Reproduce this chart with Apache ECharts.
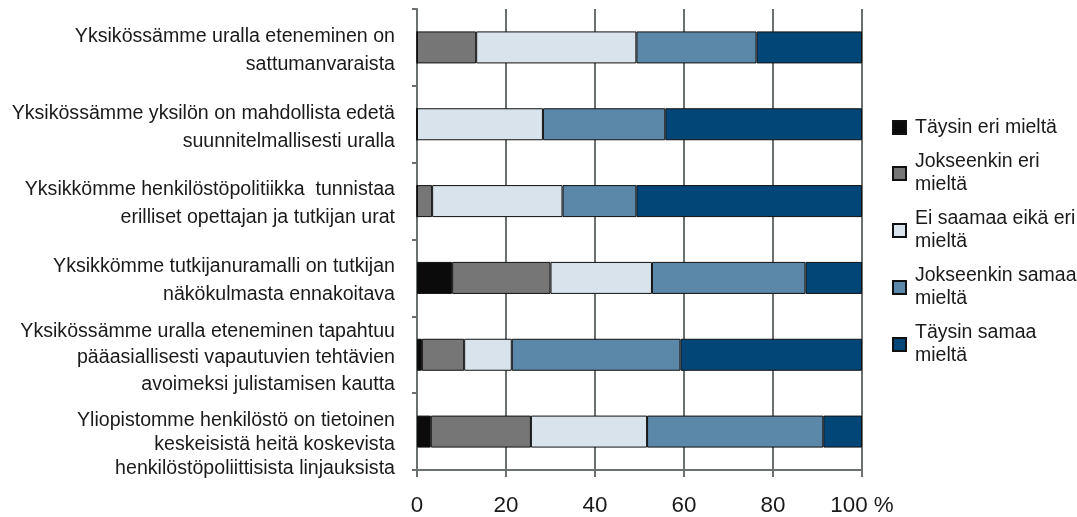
<!DOCTYPE html>
<html>
<head>
<meta charset="utf-8">
<script src="https://cdn.jsdelivr.net/npm/echarts@6/dist/echarts.min.js"></script>
<style>
  html, body { margin: 0; padding: 0; background: #fff; }
  #chart { width: 1077px; height: 517px; }
</style>
</head>
<body>
<div id="chart"></div>
<script>
var categories = [
  'Yksikössämme uralla eteneminen on\nsattumanvaraista',
  'Yksikössämme yksilön on mahdollista edetä\nsuunnitelmallisesti uralla',
  'Yksikkömme henkilöstöpolitiikka  tunnistaa\nerilliset opettajan ja tutkijan urat',
  'Yksikkömme tutkijanuramalli on tutkijan\nnäkökulmasta ennakoitava',
  'Yksikössämme uralla eteneminen tapahtuu\npääasiallisesti vapautuvien tehtävien\navoimeksi julistamisen kautta',
  'Yliopistomme henkilöstö on tietoinen\nkeskeisistä heitä koskevista\nhenkilöstöpoliittisista linjauksista'
];
var seriesNames = ['Täysin eri mieltä', 'Jokseenkin eri mieltä', 'Ei saamaa eikä eri mieltä', 'Jokseenkin samaa mieltä', 'Täysin samaa mieltä'];
var legendLabels = ['Täysin eri mieltä', 'Jokseenkin eri\nmieltä', 'Ei saamaa eikä eri\nmieltä', 'Jokseenkin samaa\nmieltä', 'Täysin samaa\nmieltä'];
var taysinEri = [0, 0, 0, 7.9, 1.1, 3.1];
var jokseenkinEri = [13.3, 0, 3.4, 22.1, 9.5, 22.5];
var eiSaamaa = [36.0, 28.3, 29.3, 22.8, 10.7, 26.1];
var jokseenkinSamaa = [27.0, 27.5, 16.6, 34.5, 37.9, 39.6];
var taysinSamaa = [23.7, 44.2, 50.7, 12.7, 40.8, 8.7];
var xTicks = [0, 20, 40, 60, 80, 100];

var colors = ['#0b0b0b', '#767676', '#d9e3ec', '#5b87a8', '#024677'];
var values = [taysinEri, jokseenkinEri, eiSaamaa, jokseenkinSamaa, taysinSamaa];
var font = "'Liberation Sans', Arial, sans-serif";
var axisColor = '#6a716e';

var chart = echarts.init(document.getElementById('chart'));

var series = seriesNames.map(function (name, i) {
  return {
    name: name,
    type: 'bar',
    stack: 'total',
    barWidth: 32,
    itemStyle: { color: colors[i], borderColor: '#111', borderWidth: 1 },
    data: values[i]
  };
});

// two-line legend entries: push text down so the first line sits beside the icon
var legendData = seriesNames.map(function (name, i) {
  var item = { name: name };
  if (legendLabels[i].indexOf('\n') >= 0) {
    item.textStyle = { padding: [23, 0, 0, 4] };
  } else {
    item.textStyle = { padding: [12, 0, 12, 4] };
  }
  return item;
});

// category labels: a small empty line on top nudges the text block down a bit
function categoryLabel(value, idx) {
  var lines = value.split('\n');
  var last = idx === categories.length - 1;
  var style = lines.length === 2 ? 'two' : (last ? 'tight' : 'three');
  var gap = last ? 'gapBig' : 'gap';
  return '{' + gap + '| }\n' + lines.map(function (l) {
    return '{' + style + '|' + l + '}';
  }).join('\n');
}

chart.setOption({
  animation: false,
  color: colors,
  grid: { left: 417, right: 215, top: 9, bottom: 46, containLabel: false },
  legend: {
    orient: 'vertical',
    left: 892,
    top: 104,
    padding: 0,
    itemWidth: 13,
    itemHeight: 13,
    itemGap: -12,
    icon: 'rect',
    data: legendData,
    formatter: function (name) {
      return legendLabels[seriesNames.indexOf(name)];
    },
    textStyle: { fontFamily: font, fontSize: 19.5, color: '#1a1a1a', lineHeight: 23 }
  },
  xAxis: {
    type: 'value',
    min: xTicks[0],
    max: xTicks[xTicks.length - 1],
    interval: 20,
    axisLine: { show: true, lineStyle: { color: axisColor, width: 2 } },
    axisTick: { show: true, length: 7, lineStyle: { color: axisColor, width: 2 } },
    splitLine: { show: true, lineStyle: { color: axisColor, width: 2 } },
    axisLabel: {
      fontFamily: font,
      fontSize: 22.4,
      color: '#1a1a1a',
      margin: 25,
      formatter: function (v) { return v === 100 ? '100 %' : String(v); }
    }
  },
  yAxis: {
    type: 'category',
    inverse: true,
    data: categories,
    axisLine: { show: true, lineStyle: { color: axisColor, width: 2 } },
    axisTick: { show: true, length: 5, lineStyle: { color: axisColor, width: 2 } },
    splitLine: { show: false },
    axisLabel: {
      interval: 0,
      fontFamily: font,
      fontSize: 19.6,
      color: '#1a1a1a',
      margin: 22,
      align: 'right',
      formatter: categoryLabel,
      rich: {
        gap: { fontSize: 1, lineHeight: 6 },
        gapBig: { fontSize: 1, lineHeight: 26 },
        two: { fontFamily: font, fontSize: 19.6, color: '#1a1a1a', lineHeight: 28, align: 'right' },
        three: { fontFamily: font, fontSize: 19.6, color: '#1a1a1a', lineHeight: 26.5, align: 'right' },
        tight: { fontFamily: font, fontSize: 19.6, color: '#1a1a1a', lineHeight: 24, align: 'right' }
      }
    }
  },
  series: series
});
</script>
</body>
</html>
